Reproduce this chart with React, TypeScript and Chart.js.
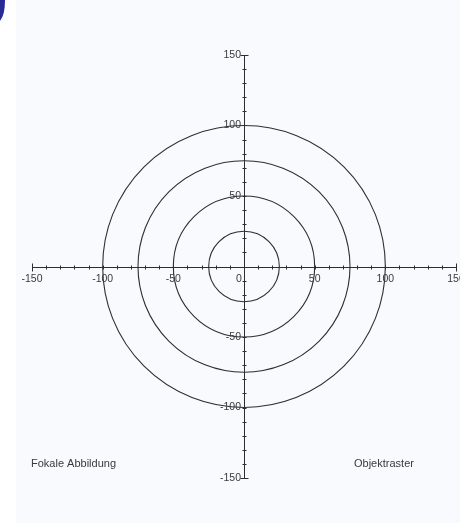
import { useEffect, useRef } from "react";
import { Chart, registerables } from "chart.js";

Chart.register(...registerables);

// Axis range and tick layout (data units)
const axisMin = -150;
const axisMax = 150;
const minorStep = 10;
const labelValues = [-150, -100, -50, 0, 50, 100, 150];

// Concentric object grid rings (radius in data units)
const ringRadii = [25, 50, 75, 100];

// Captions
const leftCaption = "Fokale Abbildung";
const rightCaption = "Objektraster";

const W = 460;
const H = 523;
const INK = "#2e2e2e";
const TEXT = "#3a3a3a";
const FONT = "Liberation Sans, Arial, sans-serif";

const targetPlugin = {
  id: "targetPlot",
  beforeDraw(chart: any) {
    const ctx = chart.ctx as CanvasRenderingContext2D;
    ctx.save();
    ctx.fillStyle = "#ffffff";
    ctx.fillRect(0, 0, W, H);
    ctx.fillStyle = "rgb(249,250,254)";
    ctx.fillRect(16, 0, W - 16, H);
    // corner badge
    ctx.fillStyle = "rgb(42,42,150)";
    ctx.beginPath();
    ctx.moveTo(0, 0);
    ctx.lineTo(5, 0);
    ctx.quadraticCurveTo(5, 15, 0, 21);
    ctx.closePath();
    ctx.fill();
    ctx.restore();
  },
  afterDatasetsDraw(chart: any) {
    const ctx = chart.ctx as CanvasRenderingContext2D;
    const xs = chart.scales.x;
    const ys = chart.scales.y;
    const cx = xs.getPixelForValue(0);
    const cy = ys.getPixelForValue(0);
    ctx.save();

    // rings
    ctx.strokeStyle = INK;
    ctx.lineWidth = 1.1;
    for (const r of ringRadii) {
      const rx = Math.abs(xs.getPixelForValue(r) - cx);
      const ry = Math.abs(ys.getPixelForValue(r) - cy);
      ctx.beginPath();
      ctx.ellipse(cx, cy, rx, ry, 0, 0, Math.PI * 2);
      ctx.stroke();
    }

    // axes lines
    ctx.lineWidth = 1;
    const x0 = xs.getPixelForValue(axisMin);
    const x1 = xs.getPixelForValue(axisMax);
    const yTop = ys.getPixelForValue(axisMax);
    const yBot = ys.getPixelForValue(axisMin);
    const ax = Math.round(cx) + 0.5;
    const ay = Math.round(cy) + 0.5;
    ctx.beginPath();
    ctx.moveTo(x0, ay);
    ctx.lineTo(x1, ay);
    ctx.moveTo(ax, yTop);
    ctx.lineTo(ax, yBot);
    ctx.stroke();

    // tick marks crossing the axes
    ctx.beginPath();
    for (let v = axisMin; v <= axisMax; v += minorStep) {
      if (v === 0) continue;
      const len = v === axisMin || v === axisMax ? 4 : 2;
      const px = Math.round(xs.getPixelForValue(v)) + 0.5;
      ctx.moveTo(px, ay - len);
      ctx.lineTo(px, ay + len);
      const py = Math.round(ys.getPixelForValue(v)) + 0.5;
      ctx.moveTo(ax - len, py);
      ctx.lineTo(ax + len, py);
    }
    ctx.stroke();

    // tick labels
    ctx.fillStyle = TEXT;
    ctx.font = `10.5px ${FONT}`;
    ctx.textBaseline = "top";
    ctx.textAlign = "center";
    for (const v of labelValues) {
      if (v === 0) {
        ctx.fillText("0", cx - 5, cy + 7);
      } else {
        ctx.fillText(String(v), xs.getPixelForValue(v), cy + 7);
      }
    }
    ctx.textAlign = "right";
    ctx.textBaseline = "middle";
    for (const v of labelValues) {
      if (v === 0) continue;
      ctx.fillText(String(v), cx - 3, ys.getPixelForValue(v));
    }

    // captions
    ctx.font = `11px ${FONT}`;
    ctx.textAlign = "left";
    ctx.textBaseline = "middle";
    ctx.fillText(leftCaption, 31, 464);
    ctx.fillText(rightCaption, 354, 464);

    ctx.restore();
  },
};

export default function App() {
  const canvasRef = useRef<HTMLCanvasElement>(null);

  useEffect(() => {
    const canvas = canvasRef.current;
    if (!canvas) return;
    const chart = new Chart(canvas, {
      type: "scatter",
      data: { datasets: [{ data: [], pointRadius: 0 }] },
      options: {
        animation: false,
        responsive: false,
        devicePixelRatio: 1,
        layout: { padding: { left: 32, right: 4, top: 55, bottom: 45 } },
        plugins: { legend: { display: false }, tooltip: { enabled: false } },
        scales: {
          x: { type: "linear", min: axisMin, max: axisMax, display: false },
          y: { type: "linear", min: axisMin, max: axisMax, display: false },
        },
      },
      plugins: [targetPlugin],
    });
    return () => chart.destroy();
  }, []);

  return (
    <div style={{ position: "fixed", left: 0, top: 0, width: W, height: H }}>
      <canvas ref={canvasRef} width={W} height={H} style={{ display: "block" }} />
    </div>
  );
}
